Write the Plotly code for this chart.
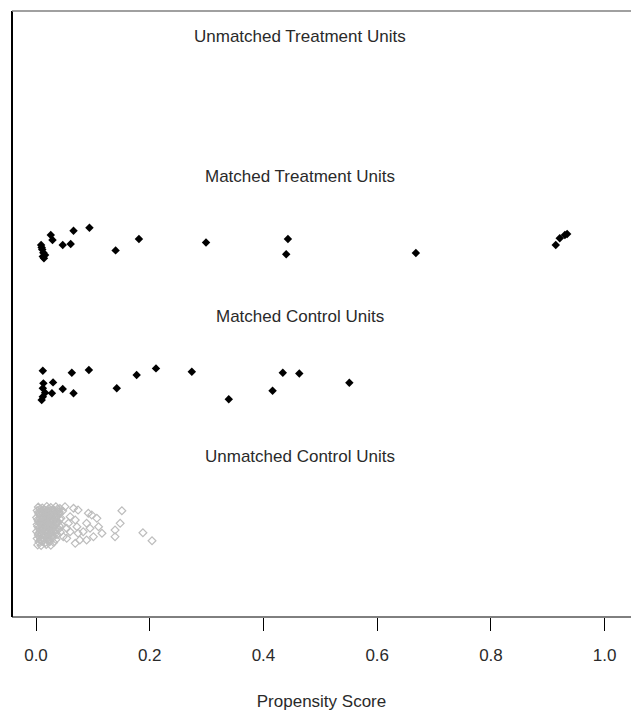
import plotly.graph_objects as go

# Propensity scores (x) and vertical jitter (y)
mt_x = [0.026, 0.029, 0.009, 0.011, 0.013, 0.016, 0.014, 0.010, 0.012, 0.047, 0.061, 0.066,
        0.094, 0.140, 0.181, 0.299, 0.443, 0.440, 0.668, 0.914, 0.921, 0.930, 0.934]
mt_y = [0.579, 0.543, 0.507, 0.476, 0.452, 0.436, 0.412, 0.490, 0.425, 0.507, 0.514, 0.609,
        0.631, 0.469, 0.550, 0.526, 0.550, 0.441, 0.450, 0.507, 0.555, 0.579, 0.586]

mc_x = [0.012, 0.063, 0.093, 0.177, 0.211, 0.274, 0.339, 0.416, 0.434, 0.463, 0.551,
        0.013, 0.030, 0.012, 0.016, 0.028, 0.047, 0.066, 0.142, 0.010, 0.012]
mc_y = [-0.391, -0.405, -0.386, -0.421, -0.374, -0.398, -0.595, -0.534, -0.405, -0.411, -0.476,
        -0.481, -0.474, -0.516, -0.548, -0.552, -0.521, -0.552, -0.516, -0.600, -0.576]

uc_x = [0.004, 0.011, 0.019, 0.026, 0.035, 0.042,
        0.002, 0.008, 0.015, 0.022, 0.030, 0.038, 0.047,
        0.005, 0.012, 0.018, 0.025, 0.033, 0.041,
        0.001, 0.007, 0.014, 0.021, 0.028, 0.036, 0.044,
        0.004, 0.010, 0.017, 0.024, 0.031, 0.039,
        0.002, 0.008, 0.013, 0.020, 0.027, 0.034, 0.045,
        0.005, 0.011, 0.016, 0.023, 0.030, 0.040,
        0.001, 0.007, 0.014, 0.019, 0.026, 0.033, 0.043,
        0.004, 0.010, 0.017, 0.022, 0.029, 0.037,
        0.002, 0.008, 0.013, 0.020, 0.028, 0.035,
        0.005, 0.011, 0.016, 0.024, 0.031,
        0.003, 0.009, 0.018, 0.026,
        0.007, 0.014, 0.022, 0.030, 0.038,
        0.004, 0.011, 0.018, 0.027, 0.034, 0.041,
        0.008, 0.015, 0.023, 0.031, 0.037,
        0.003, 0.012, 0.019, 0.025, 0.035, 0.042,
        0.006, 0.014, 0.021, 0.029, 0.037,
        0.003, 0.010, 0.018, 0.025, 0.032, 0.041,
        0.007, 0.013, 0.021, 0.028, 0.036,
        0.004, 0.012, 0.019, 0.027, 0.034,
        0.006, 0.015, 0.022, 0.030,
        0.008, 0.014, 0.021,
        0.066, 0.074, 0.060, 0.069, 0.057, 0.072, 0.060, 0.074, 0.054, 0.077, 0.069,
        0.092, 0.098, 0.107, 0.089, 0.095, 0.110, 0.116, 0.101, 0.089, 0.083,
        0.139, 0.139, 0.151, 0.148, 0.188, 0.204, 0.051, 0.048, 0.054]
uc_y = [-1.365, -1.372, -1.360, -1.368, -1.363, -1.375,
        -1.390, -1.395, -1.386, -1.393, -1.388, -1.397, -1.392,
        -1.415, -1.410, -1.420, -1.413, -1.418, -1.411,
        -1.440, -1.445, -1.436, -1.442, -1.447, -1.438, -1.444,
        -1.465, -1.470, -1.461, -1.468, -1.463, -1.472,
        -1.490, -1.485, -1.494, -1.488, -1.492, -1.486, -1.495,
        -1.515, -1.520, -1.511, -1.518, -1.513, -1.522,
        -1.540, -1.545, -1.536, -1.542, -1.547, -1.538, -1.544,
        -1.565, -1.560, -1.569, -1.563, -1.568, -1.561,
        -1.590, -1.595, -1.586, -1.593, -1.588, -1.597,
        -1.615, -1.610, -1.620, -1.613, -1.618,
        -1.635, -1.640, -1.632, -1.638,
        -1.378, -1.380, -1.376, -1.381, -1.379,
        -1.403, -1.401, -1.405, -1.402, -1.404, -1.400,
        -1.428, -1.426, -1.430, -1.427, -1.429,
        -1.453, -1.451, -1.455, -1.452, -1.454, -1.450,
        -1.478, -1.476, -1.480, -1.477, -1.479,
        -1.503, -1.501, -1.505, -1.502, -1.504, -1.500,
        -1.528, -1.526, -1.530, -1.527, -1.529,
        -1.553, -1.551, -1.555, -1.552, -1.554,
        -1.578, -1.576, -1.580, -1.577,
        -1.603, -1.601, -1.605,
        -1.374, -1.386, -1.433, -1.457, -1.481, -1.505, -1.541, -1.552, -1.588, -1.600, -1.624,
        -1.409, -1.421, -1.445, -1.481, -1.516, -1.505, -1.552, -1.576, -1.600, -1.541,
        -1.529, -1.576, -1.391, -1.481, -1.548, -1.605, -1.362, -1.576, -1.516]

labels = ["Unmatched Treatment Units", "Matched Treatment Units",
          "Matched Control Units", "Unmatched Control Units"]
label_y = [2, 1, 0, -1]
tick_vals = [0.0, 0.2, 0.4, 0.6, 0.8, 1.0]
tick_text = ["0.0", "0.2", "0.4", "0.6", "0.8", "1.0"]

FONT = "Liberation Sans, Arial, sans-serif"
TXT = "#2a2a2a"

fig = go.Figure()
fig.add_trace(go.Scatter(x=uc_x, y=uc_y, mode="markers",
                         marker=dict(symbol="diamond-open", size=6, color="#bdbdbd",
                                     line=dict(width=1.2, color="#bdbdbd"))))
fig.add_trace(go.Scatter(x=mt_x, y=mt_y, mode="markers",
                         marker=dict(symbol="diamond", size=6.5, color="black", line=dict(width=0))))
fig.add_trace(go.Scatter(x=mc_x, y=mc_y, mode="markers",
                         marker=dict(symbol="diamond", size=6.5, color="black", line=dict(width=0))))

for t, yy in zip(labels, label_y):
    fig.add_annotation(x=0.464, y=yy, text=t, showarrow=False, xref="x", yref="y",
                       font=dict(family=FONT, size=17, color=TXT))

# frame: left, top, bottom
fig.add_shape(type="line", xref="paper", yref="paper", x0=0, x1=0, y0=0, y1=1,
              line=dict(color="black", width=2))
fig.add_shape(type="line", xref="paper", yref="paper", x0=0, x1=1, y0=1, y1=1,
              line=dict(color="#808080", width=1.5))
fig.add_shape(type="line", xref="paper", yref="paper", x0=0, x1=1, y0=0, y1=0,
              line=dict(color="black", width=1))

fig.update_layout(
    width=631, height=712,
    margin=dict(l=12, r=0, t=11, b=95),
    paper_bgcolor="white", plot_bgcolor="white",
    showlegend=False,
    font=dict(family=FONT, size=17, color=TXT),
    xaxis=dict(range=[-0.0422, 1.0463], tickvals=tick_vals, ticktext=tick_text,
               ticks="outside", ticklen=13, tickwidth=1, tickcolor="black",
               showgrid=False, zeroline=False, showline=False,
               ticklabelstandoff=10,
               tickfont=dict(family=FONT, size=17, color=TXT),
               title=dict(text="Propensity Score", standoff=30,
                          font=dict(family=FONT, size=17, color=TXT))),
    yaxis=dict(range=[-2.15, 2.179], showticklabels=False, ticks="",
               showgrid=False, zeroline=False, showline=False),
)

fig.write_html("out.html", config={"displayModeBar": False},
               post_script="document.body.style.margin='0';document.body.style.overflow='hidden';")
